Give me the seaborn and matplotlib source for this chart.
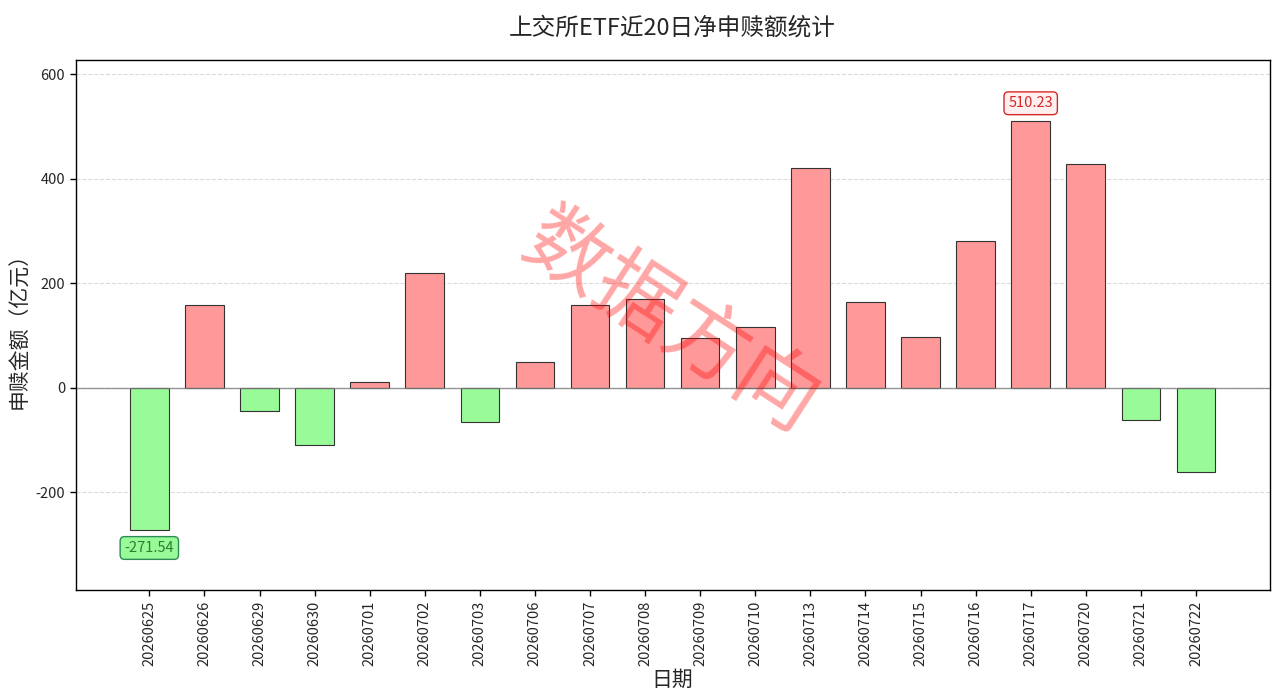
import matplotlib
matplotlib.use("Agg")
import matplotlib.pyplot as plt
import seaborn as sns
import pandas as pd

dates = ["20260625", "20260626", "20260629", "20260630", "20260701", "20260702",
         "20260703", "20260706", "20260707", "20260708", "20260709", "20260710",
         "20260713", "20260714", "20260715", "20260716", "20260717", "20260720",
         "20260721", "20260722"]
values = [-271.54, 159, -44, -109, 12, 220, -65, 50, 159, 170, 96, 117,
          421, 165, 98, 281, 510.23, 429, -61, -161]

title = "上交所ETF近20日净申赎额统计"
xlabel = "日期"
ylabel = "申赎金额（亿元）"
watermark = "数据方向"

sns.set_theme(style="white")
plt.rcParams['font.family'] = ['Noto Sans CJK SC', 'DejaVu Sans']
plt.rcParams['axes.unicode_minus'] = False

df = pd.DataFrame({"date": dates, "value": values})
colors = ["#ff9999" if v >= 0 else "#98fb98" for v in values]

fig = plt.figure(figsize=(12.8, 6.96), dpi=100)
ax = fig.add_axes([0.059, 0.152, 0.933, 0.762])

sns.barplot(data=df, x="date", y="value", hue="date", palette=colors, legend=False,
            width=0.7, edgecolor="#333333", linewidth=0.8, ax=ax, saturation=1)

ax.set_xlim(-1.34, 20.34)
ax.set_ylim(-387, 628)
ax.axhline(0, color="gray", linewidth=1, alpha=0.8)
ax.yaxis.grid(True, linestyle="--", color="#cccccc", alpha=0.7, linewidth=0.8)
ax.set_axisbelow(True)
for s in ax.spines.values():
    s.set_color("black")
    s.set_linewidth(1)
ax.tick_params(axis="both", which="both", length=4, width=1, color="black",
               bottom=True, left=True, labelsize=10.5)
ax.set_yticks([-200, 0, 200, 400, 600])
plt.setp(ax.get_xticklabels(), rotation=90)

ax.set_title(title, fontsize=17, pad=18)
ax.set_xlabel(xlabel, fontsize=15, labelpad=2)
ax.set_ylabel(ylabel, fontsize=15)

imax = values.index(max(values))
imin = values.index(min(values))
ax.annotate(f"{values[imax]:.2f}", xy=(imax, values[imax]), xytext=(0, 8),
            textcoords="offset points", ha="center", va="bottom", fontsize=10.5,
            color="#d62728",
            bbox=dict(boxstyle="round,pad=0.3", fc="#fff0f0", ec="#d62728", lw=1))
ax.annotate(f"{values[imin]:.2f}", xy=(imin, values[imin]), xytext=(0, -8),
            textcoords="offset points", ha="center", va="top", fontsize=10.5,
            color="#2e7d32",
            bbox=dict(boxstyle="round,pad=0.3", fc="#98fb98", ec="#2e8b57", lw=1))

fig.text(0.524, 0.535, watermark, fontsize=60, color="red", alpha=0.35,
         rotation=-33, ha="center", va="center", rotation_mode="anchor")

fig.savefig("out.png", dpi=100)
